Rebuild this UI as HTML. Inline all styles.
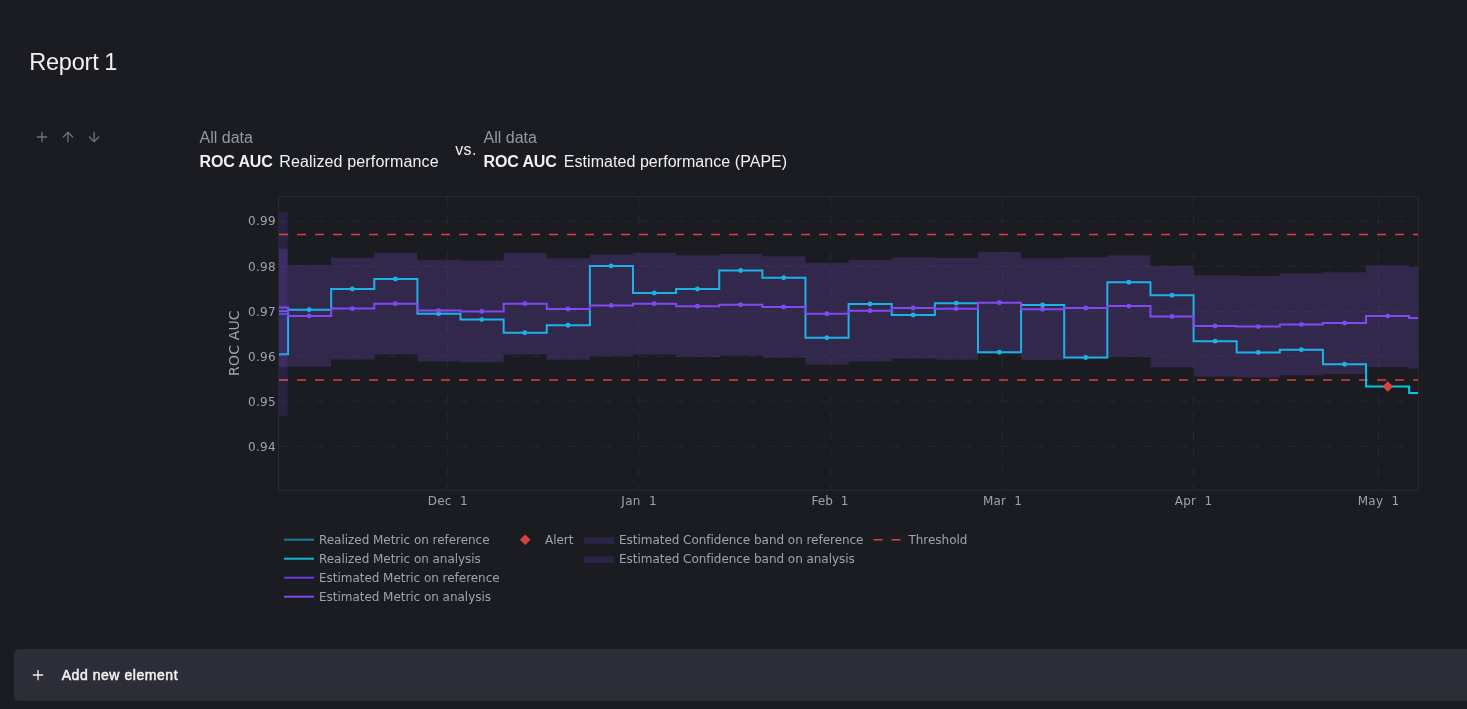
<!DOCTYPE html>
<html lang="en">
<head>
<meta charset="utf-8">
<title>Report 1</title>
<style>
*{box-sizing:border-box;margin:0;padding:0}
html,body{width:1467px;height:709px;overflow:hidden;background:#1b1c21}
body{position:relative;font-family:"Liberation Sans",Arial,sans-serif;color:#f1f1f3}
.abs{position:absolute;white-space:nowrap;line-height:1}
h1.abs{left:29.2px;top:51.1px;font-size:23.5px;font-weight:400;color:#f1f1f3;letter-spacing:-0.2px;word-spacing:-0.6px}
.sub{color:#9298a6;font-size:16px}
.main{color:#f1f1f3;font-size:16px}
.main b{font-weight:700;letter-spacing:-0.15px}
.chart{position:absolute;left:0;top:0}
.icons{position:absolute;left:0;top:0}
.bar{position:absolute;left:14px;top:649px;width:1460px;height:52px;background:#2c2d37;border-radius:5px 0 0 5px}
.bar span{position:absolute;left:47.7px;top:19.1px;font-size:14px;font-weight:400;color:#f1f1f3;line-height:1;white-space:nowrap;-webkit-text-stroke:0.5px #f1f1f3;letter-spacing:0.55px}
</style>
</head>
<body>
<h1 class="abs">Report 1</h1>
<div class="abs sub" style="left:199.6px;top:130px">All data</div>
<div class="abs main" style="left:199.6px;top:154px"><b>ROC AUC</b></div>
<div class="abs main" style="left:279.2px;top:154px;letter-spacing:0.15px">Realized performance</div>
<div class="abs main" style="left:455.3px;top:141.7px;letter-spacing:0.3px">vs.</div>
<div class="abs sub" style="left:483.6px;top:130px">All data</div>
<div class="abs main" style="left:483.6px;top:154px"><b>ROC AUC</b></div>
<div class="abs main" style="left:563.8px;top:154px;letter-spacing:0.05px">Estimated performance (PAPE)</div>
<svg class="chart" width="1467" height="709" viewBox="0 0 1467 709">
<g stroke="#26292e" stroke-width="1" stroke-dasharray="9 9" fill="none"><line x1="279.1" x2="1418.5" y1="221.3" y2="221.3"/><line x1="279.1" x2="1418.5" y1="266.3" y2="266.3"/><line x1="279.1" x2="1418.5" y1="311.3" y2="311.3"/><line x1="279.1" x2="1418.5" y1="356.3" y2="356.3"/><line x1="279.1" x2="1418.5" y1="401.3" y2="401.3"/><line x1="279.1" x2="1418.5" y1="446.3" y2="446.3"/><line x1="447.4" x2="447.4" y1="197.1" y2="490.5"/><line x1="638.55" x2="638.55" y1="197.1" y2="490.5"/><line x1="830.7" x2="830.7" y1="197.1" y2="490.5"/><line x1="1002.3" x2="1002.3" y1="197.1" y2="490.5"/><line x1="1193.5" x2="1193.5" y1="197.1" y2="490.5"/><line x1="1378.5" x2="1378.5" y1="197.1" y2="490.5"/></g>
<g stroke="#d9423c" stroke-width="1.5" stroke-dasharray="9 9" fill="none"><line x1="279.1" x2="1418.5" y1="234.4" y2="234.4"/><line x1="279.1" x2="1418.5" y1="379.9" y2="379.9"/></g>
<line x1="279" x2="288" y1="311.2" y2="311.2" stroke="#3f86d8" stroke-width="1.7"/>
<line x1="279" x2="288" y1="313.9" y2="313.9" stroke="#6d3be0" stroke-width="2"/>
<path d="M278.9,354.3 H288.05 V309.8 H331.17 V289 H374.29 V279 H417.41 V313.8 H460.53 V319.6 H503.65 V332.8 H546.77 V325.3 H589.89 V265.9 H633.01 V293 H676.13 V289 H719.25 V270.5 H762.37 V277.7 H805.49 V337.8 H848.61 V303.95 H891.73 V315 H934.85 V303.16 H977.97 V352.2 H1021.09 V304.94 H1064.21 V357.5 H1107.33 V282.2 H1150.45 V295.3 H1193.57 V341.15 H1236.69 V352.4 H1279.81 V349.75 H1322.93 V364.2 H1366.05 V386.5 H1409.17 V393 H1418.5" fill="none" stroke="#00c8e5" stroke-width="2" stroke-linejoin="miter"/>
<path d="M278.9,307.6 H288.05 V315.9 H331.17 V308.6 H374.29 V303.65 H417.41 V310.6 H460.53 V311.4 H503.65 V303.65 H546.77 V309 H589.89 V305.4 H633.01 V303.65 H676.13 V306.2 H719.25 V304.8 H762.37 V307 H805.49 V313.7 H848.61 V310.7 H891.73 V308 H934.85 V308.8 H977.97 V302.7 H1021.09 V309.2 H1064.21 V308 H1107.33 V306.1 H1150.45 V316.5 H1193.57 V326 H1236.69 V326.6 H1279.81 V324.4 H1322.93 V323.06 H1366.05 V316.1 H1409.17 V317.9 H1418.5" fill="none" stroke="#7f46f1" stroke-width="2" stroke-linejoin="miter"/>
<circle cx="309.14" cy="309.8" r="2.45" fill="#00c8e5"/>
<circle cx="352.28" cy="289" r="2.45" fill="#00c8e5"/>
<circle cx="395.43" cy="279" r="2.45" fill="#00c8e5"/>
<circle cx="438.57" cy="313.8" r="2.45" fill="#00c8e5"/>
<circle cx="481.71" cy="319.6" r="2.45" fill="#00c8e5"/>
<circle cx="524.86" cy="332.8" r="2.45" fill="#00c8e5"/>
<circle cx="568" cy="325.3" r="2.45" fill="#00c8e5"/>
<circle cx="611.14" cy="265.9" r="2.45" fill="#00c8e5"/>
<circle cx="654.28" cy="293" r="2.45" fill="#00c8e5"/>
<circle cx="697.43" cy="289" r="2.45" fill="#00c8e5"/>
<circle cx="740.57" cy="270.5" r="2.45" fill="#00c8e5"/>
<circle cx="783.71" cy="277.7" r="2.45" fill="#00c8e5"/>
<circle cx="826.86" cy="337.8" r="2.45" fill="#00c8e5"/>
<circle cx="870" cy="303.95" r="2.45" fill="#00c8e5"/>
<circle cx="913.14" cy="315" r="2.45" fill="#00c8e5"/>
<circle cx="956.28" cy="303.16" r="2.45" fill="#00c8e5"/>
<circle cx="999.43" cy="352.2" r="2.45" fill="#00c8e5"/>
<circle cx="1042.57" cy="304.94" r="2.45" fill="#00c8e5"/>
<circle cx="1085.71" cy="357.5" r="2.45" fill="#00c8e5"/>
<circle cx="1128.86" cy="282.2" r="2.45" fill="#00c8e5"/>
<circle cx="1172" cy="295.3" r="2.45" fill="#00c8e5"/>
<circle cx="1215.14" cy="341.15" r="2.45" fill="#00c8e5"/>
<circle cx="1258.29" cy="352.4" r="2.45" fill="#00c8e5"/>
<circle cx="1301.43" cy="349.75" r="2.45" fill="#00c8e5"/>
<circle cx="1344.57" cy="364.2" r="2.45" fill="#00c8e5"/>
<circle cx="1387.72" cy="386.5" r="2.45" fill="#00c8e5"/>
<circle cx="309.14" cy="315.9" r="2.45" fill="#7f46f1"/>
<circle cx="352.28" cy="308.6" r="2.45" fill="#7f46f1"/>
<circle cx="395.43" cy="303.65" r="2.45" fill="#7f46f1"/>
<circle cx="438.57" cy="310.6" r="2.45" fill="#7f46f1"/>
<circle cx="481.71" cy="311.4" r="2.45" fill="#7f46f1"/>
<circle cx="524.86" cy="303.65" r="2.45" fill="#7f46f1"/>
<circle cx="568" cy="309" r="2.45" fill="#7f46f1"/>
<circle cx="611.14" cy="305.4" r="2.45" fill="#7f46f1"/>
<circle cx="654.28" cy="303.65" r="2.45" fill="#7f46f1"/>
<circle cx="697.43" cy="306.2" r="2.45" fill="#7f46f1"/>
<circle cx="740.57" cy="304.8" r="2.45" fill="#7f46f1"/>
<circle cx="783.71" cy="307" r="2.45" fill="#7f46f1"/>
<circle cx="826.86" cy="313.7" r="2.45" fill="#7f46f1"/>
<circle cx="870" cy="310.7" r="2.45" fill="#7f46f1"/>
<circle cx="913.14" cy="308" r="2.45" fill="#7f46f1"/>
<circle cx="956.28" cy="308.8" r="2.45" fill="#7f46f1"/>
<circle cx="999.43" cy="302.7" r="2.45" fill="#7f46f1"/>
<circle cx="1042.57" cy="309.2" r="2.45" fill="#7f46f1"/>
<circle cx="1085.71" cy="308" r="2.45" fill="#7f46f1"/>
<circle cx="1128.86" cy="306.1" r="2.45" fill="#7f46f1"/>
<circle cx="1172" cy="316.5" r="2.45" fill="#7f46f1"/>
<circle cx="1215.14" cy="326" r="2.45" fill="#7f46f1"/>
<circle cx="1258.29" cy="326.6" r="2.45" fill="#7f46f1"/>
<circle cx="1301.43" cy="324.4" r="2.45" fill="#7f46f1"/>
<circle cx="1344.57" cy="323.06" r="2.45" fill="#7f46f1"/>
<circle cx="1387.72" cy="316.1" r="2.45" fill="#7f46f1"/>
<rect x="278.95" y="212" width="8.75" height="203.9" fill="#6a48e6" fill-opacity="0.17"/>
<rect x="278.95" y="248.8" width="8.75" height="118" fill="#8b5cf6" fill-opacity="0.2"/>
<path d="M287.7,265.05 V265.05 H331.17 V257.75 H374.29 V252.8 H417.41 V259.75 H460.53 V260.55 H503.65 V252.8 H546.77 V258.15 H589.89 V254.55 H633.01 V252.8 H676.13 V255.35 H719.25 V253.95 H762.37 V256.15 H805.49 V262.85 H848.61 V259.85 H891.73 V257.15 H934.85 V257.95 H977.97 V251.85 H1021.09 V258.35 H1064.21 V257.15 H1107.33 V255.25 H1150.45 V265.65 H1193.57 V275.15 H1236.69 V275.75 H1279.81 V273.55 H1322.93 V272.21 H1366.05 V265.25 H1409.17 V267.05 H1418.5 V368.75 H1409.17 V366.95 H1366.05 V373.91 H1322.93 V375.25 H1279.81 V377.45 H1236.69 V376.85 H1193.57 V367.35 H1150.45 V356.95 H1107.33 V358.85 H1064.21 V360.05 H1021.09 V353.55 H977.97 V359.65 H934.85 V358.85 H891.73 V361.55 H848.61 V364.55 H805.49 V357.85 H762.37 V355.65 H719.25 V357.05 H676.13 V354.5 H633.01 V356.25 H589.89 V359.85 H546.77 V354.5 H503.65 V362.25 H460.53 V361.45 H417.41 V354.5 H374.29 V359.45 H331.17 V366.75 H287.7 Z" fill="#8b5cf6" fill-opacity="0.2"/>
<g stroke="#d9423c" stroke-width="1.2" fill="none"><line x1="279.1" x2="288.3" y1="234.4" y2="234.4"/><line x1="279.1" x2="288.1" y1="379.9" y2="379.9"/></g>
<path d="M1387.8,381.2 l5.3,5.3 l-5.3,5.3 l-5.3,-5.3 Z" fill="#d9423c"/>
<rect x="278.5" y="196.5" width="1140" height="294" fill="none" stroke="#26292e" stroke-width="1"/>
<g font-family="'DejaVu Sans', 'Liberation Sans', sans-serif" font-size="12" fill="#9ca3af"><text x="275.9" y="225" text-anchor="end" letter-spacing="0.3">0.99</text><text x="275.9" y="271" text-anchor="end" letter-spacing="0.3">0.98</text><text x="275.9" y="316" text-anchor="end" letter-spacing="0.3">0.97</text><text x="275.9" y="361" text-anchor="end" letter-spacing="0.3">0.96</text><text x="275.9" y="406" text-anchor="end" letter-spacing="0.3">0.95</text><text x="275.9" y="451" text-anchor="end" letter-spacing="0.3">0.94</text><text x="447.8" y="505" text-anchor="middle" letter-spacing="0.3" style="white-space:pre">Dec  1</text><text x="639.1" y="505" text-anchor="middle" letter-spacing="0.3" style="white-space:pre">Jan  1</text><text x="830" y="505" text-anchor="middle" letter-spacing="0.1" style="white-space:pre">Feb  1</text><text x="1002.5" y="505" text-anchor="middle" letter-spacing="0.2" style="white-space:pre">Mar  1</text><text x="1193.6" y="505" text-anchor="middle" letter-spacing="0.3" style="white-space:pre">Apr  1</text><text x="1378.6" y="505" text-anchor="middle" letter-spacing="0.3" style="white-space:pre">May  1</text></g>
<text transform="translate(238.5,343.1) rotate(-90)" text-anchor="middle" letter-spacing="0.15" font-family="'DejaVu Sans', 'Liberation Sans', sans-serif" font-size="14" fill="#9ca3af">ROC AUC</text>
<line x1="284" x2="314" y1="539.7" y2="539.7" stroke="#1f7c99" stroke-width="2"/><line x1="284" x2="314" y1="558.7" y2="558.7" stroke="#18b4d6" stroke-width="2"/><line x1="284" x2="314" y1="577.7" y2="577.7" stroke="#6d3be0" stroke-width="2"/><line x1="284" x2="314" y1="596.7" y2="596.7" stroke="#8347f0" stroke-width="2"/><path d="M525.2,534.4 l5.3,5.3 l-5.3,5.3 l-5.3,-5.3 Z" fill="#d9423c"/><rect x="584" y="537.4" width="30" height="6.5" fill="#2b2446"/><rect x="584" y="556.4" width="30" height="6.5" fill="#2b2446"/><line x1="873.5" x2="900.5" y1="539.7" y2="539.7" stroke="#d9423c" stroke-width="1.5" stroke-dasharray="9 9"/>
<g font-family="'DejaVu Sans', 'Liberation Sans', sans-serif" font-size="12" letter-spacing="-0.035" fill="#9ca3af"><text x="319" y="544">Realized Metric on reference</text><text x="319" y="563">Realized Metric on analysis</text><text x="319" y="582">Estimated Metric on reference</text><text x="319" y="601">Estimated Metric on analysis</text><text x="545" y="544">Alert</text><text x="619" y="544">Estimated Confidence band on reference</text><text x="619" y="563">Estimated Confidence band on analysis</text><text x="908.5" y="544">Threshold</text></g>
</svg>
<div class="bar"><span>Add new element</span></div>
<svg class="icons" width="1467" height="709" viewBox="0 0 1467 709" fill="none" stroke-linecap="round" stroke-linejoin="round">
<g stroke="#6b7280" stroke-width="2">
<g transform="translate(34 129) scale(0.66667)"><path d="M5 12h14M12 5v14"/></g>
<g transform="translate(59.95 129) scale(0.66667)"><path d="M12 19V5M5 12l7-7 7 7"/></g>
<g transform="translate(86.15 129) scale(0.66667)"><path d="M12 5v14M19 12l-7 7-7-7"/></g>
</g>
<g stroke="#ececee" stroke-width="2" transform="translate(30 667) scale(0.66667)"><path d="M5 12h14M12 5v14"/></g>
</svg>
</body>
</html>
